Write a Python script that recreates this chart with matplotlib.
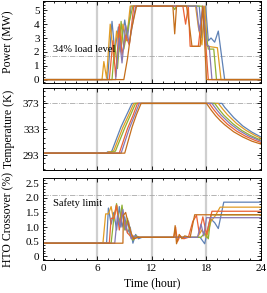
import matplotlib
matplotlib.use("Agg")
import matplotlib.pyplot as plt
from matplotlib.ticker import MultipleLocator

plt.rcParams['font.family'] = ['Liberation Serif', 'DejaVu Serif']
plt.rcParams['mathtext.fontset'] = 'stix'

# series colours (blue, orange, green, red, purple, brown)
colors = ['#5E81B5', '#E19C24', '#8FB032', '#EB6235', '#8778B3', '#C56E1A']

# --- Power (MW) ---
pow_t = [
    [0, 7.1, 7.6, 7.9, 8.3, 8.6, 9.0, 9.3, 9.7, 17.2, 17.5, 17.9, 18.2, 18.5, 18.9, 19.3, 20.0, 24],
    [0, 6.5, 6.7, 7.0, 7.4, 7.8, 8.1, 8.5, 8.8, 9.2, 9.6, 16.8, 17.1, 17.5, 17.8, 18.1, 19.2, 19.6, 24],
    [0, 7.6, 7.9, 8.2, 8.6, 8.9, 9.3, 9.9, 14.3, 14.5, 14.7, 17.5, 18.2, 18.8, 19.1, 24],
    [0, 7.3, 7.7, 8.0, 8.4, 8.7, 9.1, 9.5, 10.0, 15.4, 15.7, 16.0, 16.2, 17.1, 17.6, 18.2, 24],
    [0, 8.0, 8.4, 8.7, 9.1, 9.5, 10.2, 16.9, 17.2, 17.6, 18.0, 18.3, 18.6, 24],
    [0, 8.9, 9.3, 9.7, 10.3, 14.3, 14.5, 14.7, 15.8, 16.1, 16.4, 17.3, 17.6, 18.0, 24],
]
pow_v = [
    [0, 0, 4.2, 2.0, 3.8, 2.4, 4.3, 3.0, 5.3, 5.3, 3.0, 5.3, 2.8, 3.0, 2.7, 3.5, 0, 0],
    [0, 0, 1.3, 0.1, 4.0, 1.5, 3.5, 2.0, 4.0, 2.8, 5.3, 5.3, 3.8, 2.5, 5.3, 2.4, 2.3, 0, 0],
    [0, 0, 2.5, 0.8, 4.2, 2.2, 3.6, 5.3, 5.3, 5.05, 5.3, 5.3, 2.2, 2.2, 0, 0],
    [0, 0, 2.8, 0.2, 4.0, 1.8, 3.2, 2.5, 5.3, 5.3, 4.0, 5.3, 2.4, 2.4, 5.3, 0, 0],
    [0, 0, 3.0, 1.2, 3.9, 2.6, 5.3, 5.3, 3.5, 5.3, 2.5, 2.4, 0, 0],
    [0, 0, 1.5, 3.5, 5.3, 5.3, 3.3, 5.3, 5.3, 4.0, 2.4, 2.4, 5.3, 0, 0],
]
load_level = 1.7

# --- Temperature (K) ---
temp_t = [
    [0, 7.0, 7.1, 7.5, 7.6, 8.6, 9.2, 9.8, 19.7, 20.0, 20.5, 21, 22, 23, 24],
    [0, 7.1, 7.2, 7.6, 7.8, 8.8, 9.4, 10.0, 19.3, 19.8, 20.3, 21.3, 22.3, 23.3, 24],
    [0, 7.4, 7.5, 7.9, 8.0, 9.0, 9.6, 10.2, 18.9, 19.4, 19.9, 20.9, 21.9, 22.9, 24],
    [0, 8.4, 9.3, 9.9, 10.4, 18.3, 18.8, 19.3, 20.3, 21.3, 22.3, 23.3, 24],
    [0, 8.6, 9.5, 10.1, 10.6, 18.6, 19.1, 19.6, 20.6, 21.6, 22.6, 24],
    [0, 9.0, 9.8, 10.3, 10.8, 18.0, 18.5, 19.0, 19.5, 20.0, 21.0, 22.0, 23.0, 24],
]
temp_v = [
    [296, 296, 298, 298, 300, 337, 355, 373, 373, 367, 359, 351, 338, 328.5, 321],
    [296, 296, 298, 298, 300, 336, 354, 373, 373, 364, 355.6, 342, 331.7, 323.6, 319],
    [296, 296, 298, 298, 300, 335, 354, 373, 373, 363.5, 355, 341.6, 331, 323, 316],
    [296, 296, 334, 354, 373, 373, 363.3, 354.8, 340.8, 330.2, 322.1, 316, 312.5],
    [296, 296, 334, 355, 373, 373, 363.5, 355, 341.5, 331, 322.8, 314.5],
    [296, 296, 336, 356, 373, 373, 363, 354, 346.5, 340, 329, 321, 314.5, 310],
]
max_temp = 373

# --- HTO crossover (%) ---
hto_t = [
    [0, 7.0, 7.2, 7.5, 7.8, 8.1, 8.4, 8.7, 9.0, 9.3, 9.6, 9.9, 10.2, 10.5, 10.9, 17.3, 17.8, 18.4, 18.9, 19.3, 19.9, 24],
    [0, 6.6, 6.9, 7.2, 7.5, 7.8, 8.1, 8.4, 8.7, 9.0, 9.4, 9.8, 10.2, 10.6, 17.0, 17.5, 18.0, 18.5, 19.0, 19.5, 24],
    [0, 7.5, 7.8, 8.1, 8.4, 8.7, 9.0, 9.3, 9.6, 9.9, 10.2, 10.6, 17.4, 17.8, 18.2, 18.5, 24],
    [0, 7.3, 7.5, 7.8, 8.1, 8.4, 8.7, 9.0, 9.3, 9.6, 10.0, 10.4, 14.4, 14.6, 14.8, 15.1, 15.5, 16.0, 16.5, 16.9, 17.2, 17.6, 18.0, 18.6, 24],
    [0, 7.9, 8.2, 8.5, 8.8, 9.1, 9.4, 9.7, 10.0, 10.4, 17.0, 17.4, 17.7, 18.0, 24],
    [0, 8.8, 8.85, 9.1, 9.4, 9.7, 10.0, 10.4, 14.4, 14.55, 14.7, 15.0, 15.3, 15.6, 16.2, 16.7, 24],
]
hto_v = [
    [0.45, 0.45, 1.65, 1.1, 1.5, 0.9, 1.7, 1.0, 1.35, 0.8, 1.0, 0.45, 0.75, 0.6, 0.65, 0.65, 0.43, 1.3, 1.15, 0.95, 1.85, 1.85],
    [0.45, 0.45, 1.45, 1.45, 1.7, 1.2, 1.75, 1.1, 1.6, 1.0, 1.2, 0.6, 0.7, 0.65, 0.65, 0.9, 0.65, 1.2, 1.4, 1.68, 1.68],
    [0.45, 0.45, 1.3, 1.8, 1.1, 1.75, 0.9, 1.3, 0.7, 0.55, 0.7, 0.65, 0.65, 0.8, 0.6, 1.42, 1.42],
    [0.45, 0.45, 1.3, 1.3, 1.75, 0.9, 1.5, 1.2, 0.8, 0.7, 0.6, 0.65, 0.65, 1.0, 0.5, 0.7, 0.6, 0.65, 1.2, 1.4, 0.8, 1.35, 0.75, 1.54, 1.54],
    [0.45, 0.45, 1.4, 1.0, 1.6, 0.9, 1.2, 0.6, 0.7, 0.65, 0.65, 1.1, 0.7, 1.32, 1.32],
    [0.45, 0.45, 1.4, 1.5, 1.1, 0.8, 0.6, 0.65, 0.65, 1.05, 0.43, 0.75, 0.6, 0.7, 0.65, 1.42, 1.42],
]
safety_limit = 2.1

x_ticks = [0, 6, 12, 18, 24]
marker_hours = [6, 12, 18]

fig = plt.figure(figsize=(2.67, 2.93), dpi=100)
left, width, h = 0.161, 0.8165, 0.28
ax1 = fig.add_axes([left, 0.718, width, h])
ax2 = fig.add_axes([left, 0.420, width, h])
ax3 = fig.add_axes([left, 0.111, width, h])


def style(ax):
    ax.set_xlim(0, 24)
    ax.set_xticks(x_ticks)
    ax.xaxis.set_minor_locator(MultipleLocator(1.2))
    ax.tick_params(which='both', direction='in', top=True, right=True,
                   labelsize=8, pad=2.5, width=0.6)
    ax.tick_params(which='major', length=3)
    ax.tick_params(which='minor', length=1.5)
    for s in ax.spines.values():
        s.set_linewidth(0.7)
    for xh in marker_hours:
        ax.axvline(xh, color='#cfcfcf', lw=1.6, zorder=0)
    ax.yaxis.set_label_coords(-0.13, 0.5)


# power
for t, v, c in zip(pow_t, pow_v, colors):
    ax1.plot(t, v, color=c, lw=0.9)
ax1.axhline(load_level, color='#a8a8a8', lw=0.6, ls='-.', zorder=0.5)
ax1.text(1.1, load_level + 0.3, '34% load level', fontsize=7.5)
ax1.set_ylim(-0.22, 5.7)
ax1.set_yticks([0, 1, 2, 3, 4, 5])
ax1.yaxis.set_minor_locator(MultipleLocator(0.2))
ax1.set_ylabel('Power (MW)', fontsize=8.5)
style(ax1)
ax1.set_xticklabels([])

# temperature
for t, v, c in zip(temp_t, temp_v, colors):
    ax2.plot(t, v, color=c, lw=0.9)
ax2.axhline(max_temp, color='#a8a8a8', lw=0.6, ls='-.', zorder=0.5)
ax2.set_ylim(270, 397)
ax2.set_yticks([293, 333, 373])
ax2.yaxis.set_minor_locator(MultipleLocator(8))
ax2.set_ylabel('Temperature (K)', fontsize=8.5)
style(ax2)
ax2.set_xticklabels([])

# HTO crossover
for t, v, c in zip(hto_t, hto_v, colors):
    ax3.plot(t, v, color=c, lw=0.9)
ax3.axhline(safety_limit, color='#a8a8a8', lw=0.6, ls='-.', zorder=0.5)
ax3.text(1.1, safety_limit - 0.38, 'Safety limit', fontsize=7.5)
ax3.set_ylim(-0.14, 2.66)
ax3.set_yticks([0, 0.5, 1.0, 1.5, 2.0, 2.5])
ax3.set_yticklabels(['0', '0.5', '1.0', '1.5', '2.0', '2.5'])
ax3.yaxis.set_minor_locator(MultipleLocator(0.1))
ax3.set_ylabel('HTO Crossover (%)', fontsize=8.5)
style(ax3)
ax3.set_xlabel('Time (hour)', fontsize=8.5, labelpad=3)

fig.savefig('out.png', dpi=100)
